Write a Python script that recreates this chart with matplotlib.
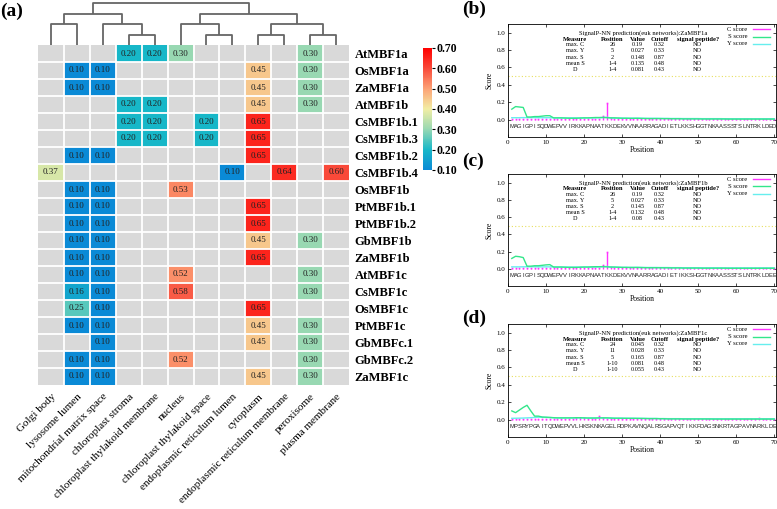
import numpy as np
import matplotlib
matplotlib.use('Agg')
import matplotlib.pyplot as plt
from matplotlib.colors import LinearSegmentedColormap

# ---------------- data ----------------
locations = ["Golgi body", "lysosome lumen", "mitochondrial matrix space",
             "chloroplast stroma", "chloroplast thylakoid membrane", "nucleus",
             "chloroplast thylakoid space", "endoplasmic reticulum lumen",
             "cytoplasm", "endoplasmic reticulum membrane", "peroxisome",
             "plasma membrane"]
proteins = ["AtMBF1a", "OsMBF1a", "ZaMBF1a", "AtMBF1b", "CsMBF1b.1", "CsMBF1b.3",
            "CsMBF1b.2", "CsMBF1b.4", "OsMBF1b", "PtMBF1b.1", "PtMBF1b.2",
            "GbMBF1b", "ZaMBF1b", "AtMBF1c", "CsMBF1c", "OsMBF1c", "PtMBF1c",
            "GbMBFc.1", "GbMBFc.2", "ZaMBF1c"]
N = np.nan
scores = [
    [N, N, N, 0.20, 0.20, 0.30, N, N, N, N, 0.30, N],
    [N, 0.10, 0.10, N, N, N, N, N, 0.45, N, 0.30, N],
    [N, 0.10, 0.10, N, N, N, N, N, 0.45, N, 0.30, N],
    [N, N, N, 0.20, 0.20, N, N, N, 0.45, N, 0.30, N],
    [N, N, N, 0.20, 0.20, N, 0.20, N, 0.65, N, N, N],
    [N, N, N, 0.20, 0.20, N, 0.20, N, 0.65, N, N, N],
    [N, 0.10, 0.10, N, N, N, N, N, 0.65, N, N, N],
    [0.37, N, N, N, N, N, N, 0.10, N, 0.64, N, 0.60],
    [N, 0.10, 0.10, N, N, 0.53, N, N, N, N, N, N],
    [N, 0.10, 0.10, N, N, N, N, N, 0.65, N, N, N],
    [N, 0.10, 0.10, N, N, N, N, N, 0.65, N, N, N],
    [N, 0.10, 0.10, N, N, N, N, N, 0.45, N, 0.30, N],
    [N, 0.10, 0.10, N, N, N, N, N, 0.65, N, N, N],
    [N, 0.10, 0.10, N, N, 0.52, N, N, N, N, 0.30, N],
    [N, 0.16, 0.10, N, N, 0.58, N, N, N, N, 0.30, N],
    [N, 0.25, 0.10, N, N, N, N, N, 0.65, N, N, N],
    [N, 0.10, 0.10, N, N, N, N, N, 0.45, N, 0.30, N],
    [N, N, 0.10, N, N, N, N, N, 0.45, N, 0.30, N],
    [N, 0.10, 0.10, N, N, 0.52, N, N, N, N, 0.30, N],
    [N, 0.10, 0.10, N, N, N, N, N, 0.45, N, 0.30, N],
]
# column dendrogram merges (left id, right id, height); leaves 0..11
col_linkage = [(3, 4, 1), (6, 7, 1), (8, 9, 1), (10, 11, 1),
               (0, 1, 2), (2, 12, 2), (5, 13, 2), (14, 15, 2),
               (16, 17, 3), (18, 19, 3), (20, 21, 4)]
cbar_ticks = [0.10, 0.20, 0.30, 0.40, 0.50, 0.60, 0.70]

# SignalP-NN panels
seq_b = "MAGIGPISQDWEPVVIRKKAPNAATKKDEKVVNAARRAGADIETLKKSHGGTNKAASSSTSLNTRKLDED"
seq_c = "MAGIGPISQDWEPVVIRKKAPNAATKKDEKVVNAARRAGADIETIKKSHGGTNKAASSSTSLNTRKLDEE"
seq_d = "MPSRYPGAITQDWEPVVLHKSKNKAGELRDPKAVNQALRSGAPVQTIKKFDAGSNKRTAGPAVNARKLDE"

s_b = [0.12, 0.15, 0.145, 0.14, 0.03, 0.03, 0.035, 0.035, 0.04, 0.045,
       0.045, 0.02, 0.02, 0.02, 0.018, 0.016, 0.016, 0.016, 0.018, 0.02,
       0.02, 0.022, 0.024, 0.024, 0.025, 0.022, 0.02, 0.02, 0.018, 0.016,
       0.016, 0.015, 0.015, 0.015, 0.014, 0.013, 0.012, 0.012, 0.012, 0.012,
       0.011, 0.011, 0.01, 0.01, 0.01, 0.008, 0.008, 0.008, 0.008, 0.008,
       0.007, 0.007, 0.007, 0.007, 0.007, 0.007, 0.007, 0.006, 0.006, 0.006,
       0.006, 0.006, 0.006, 0.006, 0.006, 0.006, 0.006, 0.006, 0.006, 0.006]
c_b = [0.005, 0.005, 0.005, 0.005, 0.005, 0.005, 0.005, 0.005, 0.005, 0.005,
       0.005, 0.008, 0.005, 0.005, 0.005, 0.005, 0.01, 0.005, 0.005, 0.005,
       0.01, 0.005, 0.01, 0.012, 0.04, 0.19, 0.02, 0.01, 0.005, 0.005,
       0.005, 0.005, 0.005, 0.01, 0.005, 0.005, 0.005, 0.005, 0.005, 0.005,
       0.005, 0.005, 0.005, 0.005, 0.005, 0.005, 0.005, 0.005, 0.005, 0.005,
       0.005, 0.005, 0.005, 0.005, 0.005, 0.005, 0.005, 0.005, 0.005, 0.005,
       0.005, 0.005, 0.005, 0.005, 0.005, 0.005, 0.005, 0.005, 0.005, 0.005]
y_b = [0.022, 0.022, 0.022, 0.023, 0.023, 0.023, 0.023, 0.022, 0.022, 0.022,
       0.022, 0.02, 0.02, 0.02, 0.02, 0.02, 0.02, 0.02, 0.02, 0.02,
       0.02, 0.02, 0.02, 0.021, 0.024, 0.027, 0.02, 0.018, 0.018, 0.017,
       0.017, 0.016, 0.016, 0.017, 0.016, 0.015, 0.015, 0.015, 0.015, 0.014,
       0.014, 0.014, 0.013, 0.013, 0.013, 0.012, 0.012, 0.012, 0.012, 0.012,
       0.011, 0.011, 0.011, 0.011, 0.011, 0.011, 0.01, 0.01, 0.01, 0.01,
       0.01, 0.01, 0.01, 0.01, 0.01, 0.01, 0.01, 0.01, 0.01, 0.01]

s_c = [0.12, 0.145, 0.14, 0.13, 0.03, 0.03, 0.035, 0.035, 0.04, 0.045,
       0.048, 0.02, 0.02, 0.02, 0.018, 0.016, 0.016, 0.016, 0.018, 0.02,
       0.02, 0.022, 0.024, 0.024, 0.025, 0.022, 0.02, 0.02, 0.018, 0.016,
       0.016, 0.015, 0.015, 0.015, 0.014, 0.013, 0.012, 0.012, 0.012, 0.012,
       0.011, 0.011, 0.01, 0.01, 0.01, 0.008, 0.008, 0.008, 0.008, 0.008,
       0.007, 0.007, 0.007, 0.007, 0.007, 0.007, 0.007, 0.006, 0.006, 0.006,
       0.006, 0.006, 0.006, 0.006, 0.006, 0.006, 0.006, 0.006, 0.006, 0.006]
c_c = [0.005, 0.005, 0.005, 0.005, 0.005, 0.005, 0.005, 0.005, 0.005, 0.005,
       0.005, 0.008, 0.005, 0.005, 0.005, 0.005, 0.01, 0.005, 0.005, 0.005,
       0.01, 0.005, 0.01, 0.012, 0.04, 0.19, 0.02, 0.01, 0.005, 0.005,
       0.005, 0.005, 0.005, 0.01, 0.005, 0.005, 0.005, 0.005, 0.005, 0.005,
       0.005, 0.005, 0.005, 0.005, 0.005, 0.005, 0.005, 0.005, 0.005, 0.005,
       0.005, 0.005, 0.005, 0.005, 0.005, 0.005, 0.005, 0.005, 0.005, 0.005,
       0.005, 0.005, 0.005, 0.005, 0.005, 0.005, 0.005, 0.005, 0.005, 0.005]
y_c = [0.022, 0.022, 0.022, 0.023, 0.023, 0.023, 0.023, 0.022, 0.022, 0.022,
       0.022, 0.02, 0.02, 0.02, 0.02, 0.02, 0.02, 0.02, 0.02, 0.02,
       0.02, 0.02, 0.02, 0.021, 0.024, 0.027, 0.02, 0.018, 0.018, 0.017,
       0.017, 0.016, 0.016, 0.017, 0.016, 0.015, 0.015, 0.015, 0.015, 0.014,
       0.014, 0.014, 0.013, 0.013, 0.013, 0.012, 0.012, 0.012, 0.012, 0.012,
       0.011, 0.011, 0.011, 0.011, 0.011, 0.011, 0.01, 0.01, 0.01, 0.01,
       0.01, 0.01, 0.01, 0.01, 0.01, 0.01, 0.01, 0.01, 0.01, 0.01]

s_d = [0.10, 0.08, 0.11, 0.14, 0.165, 0.10, 0.04, 0.04, 0.03, 0.028,
       0.025, 0.022, 0.02, 0.02, 0.02, 0.02, 0.02, 0.022, 0.022, 0.02,
       0.018, 0.018, 0.018, 0.02, 0.02, 0.02, 0.018, 0.016, 0.016, 0.016,
       0.015, 0.015, 0.015, 0.014, 0.014, 0.013, 0.012, 0.012, 0.012, 0.01,
       0.01, 0.008, 0.008, 0.008, 0.008, 0.007, 0.007, 0.007, 0.007, 0.007,
       0.007, 0.007, 0.007, 0.006, 0.006, 0.006, 0.006, 0.006, 0.006, 0.006,
       0.006, 0.006, 0.006, 0.006, 0.006, 0.006, 0.006, 0.006, 0.006, 0.006]
c_d = [0.005, 0.005, 0.005, 0.005, 0.005, 0.005, 0.005, 0.005, 0.005, 0.005,
       0.005, 0.005, 0.005, 0.005, 0.005, 0.005, 0.005, 0.015, 0.02, 0.015,
       0.005, 0.005, 0.005, 0.045, 0.015, 0.01, 0.005, 0.005, 0.005, 0.005,
       0.005, 0.005, 0.005, 0.005, 0.005, 0.005, 0.005, 0.01, 0.005, 0.005,
       0.005, 0.005, 0.005, 0.005, 0.005, 0.005, 0.005, 0.005, 0.005, 0.005,
       0.005, 0.005, 0.005, 0.005, 0.005, 0.005, 0.005, 0.005, 0.005, 0.005,
       0.005, 0.005, 0.005, 0.005, 0.005, 0.02, 0.005, 0.005, 0.005, 0.005]
y_d = [0.015, 0.016, 0.017, 0.018, 0.02, 0.022, 0.025, 0.028, 0.026, 0.025,
       0.024, 0.022, 0.02, 0.02, 0.02, 0.02, 0.02, 0.02, 0.02, 0.02,
       0.019, 0.019, 0.019, 0.02, 0.02, 0.019, 0.018, 0.017, 0.017, 0.016,
       0.016, 0.015, 0.015, 0.015, 0.014, 0.014, 0.013, 0.013, 0.013, 0.012,
       0.012, 0.011, 0.011, 0.011, 0.011, 0.01, 0.01, 0.01, 0.01, 0.01,
       0.01, 0.01, 0.01, 0.01, 0.01, 0.01, 0.01, 0.01, 0.01, 0.01,
       0.01, 0.01, 0.01, 0.01, 0.01, 0.01, 0.01, 0.01, 0.01, 0.01]

table_header = ["Measure", "Position", "Value", "Cutoff", "signal peptide?"]
table_b = [["max. C", "26", "0.19", "0.32", "NO"],
           ["max. Y", "5", "0.027", "0.33", "NO"],
           ["max. S", "2", "0.148", "0.87", "NO"],
           ["mean S", "1-4", "0.135", "0.48", "NO"],
           ["D", "1-4", "0.081", "0.43", "NO"]]
table_c = [["max. C", "26", "0.19", "0.32", "NO"],
           ["max. Y", "5", "0.027", "0.33", "NO"],
           ["max. S", "2", "0.145", "0.87", "NO"],
           ["mean S", "1-4", "0.132", "0.48", "NO"],
           ["D", "1-4", "0.08", "0.43", "NO"]]
table_d = [["max. C", "24", "0.045", "0.32", "NO"],
           ["max. Y", "11", "0.028", "0.33", "NO"],
           ["max. S", "5", "0.165", "0.87", "NO"],
           ["mean S", "1-10", "0.081", "0.48", "NO"],
           ["D", "1-10", "0.055", "0.43", "NO"]]
names = ["ZaMBF1a", "ZaMBF1b", "ZaMBF1c"]
d_cutoff = 0.5

# ---------------- figure ----------------
W, H = 777, 509
fig = plt.figure(figsize=(W / 100, H / 100), dpi=100)
SERIF = ["Liberation Serif", "DejaVu Serif"]


def rect(x0, y0, x1, y1):
    return [x0 / W, 1 - y1 / H, (x1 - x0) / W, (y1 - y0) / H]


# heatmap
cmap = LinearSegmentedColormap.from_list(
    "loc", [(0.0, "#0a8ad6"), (1 / 6, "#18b8c8"), (2 / 6, "#98d8b2"),
            (3 / 6, "#f2eea4"), (4 / 6, "#fca276"), (5 / 6, "#f94a3a"),
            (1.0, "#ff0000")])
cmap.set_bad("#d9d9d9")
data = np.ma.masked_invalid(np.array(scores, dtype=float))
nr, nc = data.shape

ax = fig.add_axes(rect(38, 45, 349, 385))
im = ax.imshow(data, cmap=cmap, vmin=0.1, vmax=0.7, aspect="auto",
               extent=(0, nc, nr, 0), interpolation="nearest")
for i in range(1, nc):
    ax.axvline(i, color="white", lw=1.3)
for j in range(1, nr):
    ax.axhline(j, color="white", lw=1.3)
for r in range(nr):
    for c in range(nc):
        v = scores[r][c]
        if not np.isnan(v):
            ax.text(c + 0.5, r + 0.5, f"{v:.2f}", ha="center", va="center",
                    fontsize=6.5, family=SERIF, color="#222222")
for s in ax.spines.values():
    s.set_visible(False)
ax.set_xticks(np.arange(nc) + 0.5)
ax.set_xticklabels(locations, rotation=45, ha="right", rotation_mode="anchor",
                   family=SERIF, fontsize=8)
ax.yaxis.tick_right()
ax.set_yticks(np.arange(nr) + 0.5)
ax.set_yticklabels(proteins, family=SERIF, fontsize=9, fontweight="bold")
ax.tick_params(axis="x", length=0, pad=5)
ax.tick_params(axis="y", length=0, pad=4)
ax.set_xlim(0, nc)
ax.set_ylim(nr, 0)

# dendrogram
dax = fig.add_axes(rect(38, 2, 349, 45))
pos = {i: (i + 0.5, 0.0) for i in range(nc)}
nid = nc
for a, b, h in col_linkage:
    xa, ha = pos[a]
    xb, hb = pos[b]
    dax.plot([xa, xa, xb, xb], [ha, h, h, hb], color="#666666", lw=1.3,
             solid_capstyle="butt")
    pos[nid] = ((xa + xb) / 2, h)
    nid += 1
dax.set_xlim(0, nc)
dax.set_ylim(0, 4.1)
dax.axis("off")

# colorbar
cax = fig.add_axes(rect(423, 48, 432, 170))
cb = fig.colorbar(im, cax=cax, ticks=cbar_ticks)
cb.outline.set_visible(False)
cb.ax.set_yticklabels([f"{t:.2f}" for t in cbar_ticks], family=SERIF,
                      fontsize=8.5, fontweight="bold")
cb.ax.tick_params(length=2, width=0.8, pad=1)

fig.text(0 / W, 1 - 11 / H, "(a)", family=SERIF, fontsize=14,
         fontweight="bold", va="center", ha="left")

# SignalP panels
panels = [
    ("(b)", 9, (508, 24, 776, 137), seq_b, c_b, s_b, y_b, table_b, names[0]),
    ("(c)", 161, (508, 174, 776, 286), seq_c, c_c, s_c, y_c, table_c, names[1]),
    ("(d)", 318, (508, 324, 776, 437), seq_d, c_d, s_d, y_d, table_d, names[2]),
]
C_COL, S_COL, Y_COL = "#ff33ff", "#33e68a", "#66eeee"
for lab, ly, (x0, y0, x1, y1), seq, cs, ss, ys, tab, nm in panels:
    fig.text(462 / W, 1 - ly / H, lab, family=SERIF, fontsize=14,
             fontweight="bold", va="center", ha="left")
    a = fig.add_axes(rect(x0, y0, x1, y1))
    p = np.arange(1, len(ss) + 1)
    a.axhline(d_cutoff, color="#e8e060", lw=0.8, ls=(0, (1, 2)))
    a.vlines(p, 0, cs, color=C_COL, lw=1.0)
    a.plot(p, cs, ls="none", marker="s", ms=1.2, color=C_COL, mew=0)
    a.plot(p, ys, color=Y_COL, lw=1.0)
    a.plot(p, ss, color=S_COL, lw=1.0)
    for k, ch in enumerate(seq):
        a.text(k + 1, -0.08, ch, ha="center", va="center", fontsize=4.2,
               family=["Liberation Sans", "DejaVu Sans"], color="#222222")
    a.set_xlim(0, 70.5)
    a.set_ylim(-0.2, 1.1)
    a.set_xticks(range(0, 71, 10))
    a.set_yticks([0.0, 0.2, 0.4, 0.6, 0.8, 1.0])
    a.set_yticklabels(["0.0", "0.2", "0.4", "0.6", "0.8", "1.0"])
    a.tick_params(direction="in", top=True, right=True, length=2, width=0.5,
                  labelsize=5, pad=2)
    for t in a.get_xticklabels() + a.get_yticklabels():
        t.set_family(SERIF)
    for s in a.spines.values():
        s.set_linewidth(0.6)
    a.set_xlabel("Position", family=SERIF, fontsize=5.5, labelpad=1)
    a.set_ylabel("Score", family=SERIF, fontsize=5.5, labelpad=2)
    # title and table
    a.text(35.5, 1.0, f"SignalP-NN prediction(euk networks):{nm}",
           ha="center", va="center", fontsize=4.7, family=SERIF)
    col_x = [17.7, 27.5, 34.1, 39.9, 49.9]
    row_y = [0.927, 0.86, 0.79, 0.72, 0.65, 0.58]
    for j, (cx, txt) in enumerate(zip(col_x, table_header)):
        a.text(cx, row_y[0], txt, ha="center", va="center", fontsize=4.7,
               family=SERIF, fontweight="bold")
    for i, row in enumerate(tab):
        for cx, txt in zip(col_x, row):
            a.text(cx, row_y[i + 1], txt, ha="center", va="center",
                   fontsize=4.5, family=SERIF)
    # legend
    for i, (nm2, col) in enumerate([("C score", C_COL), ("S score", S_COL),
                                    ("Y score", Y_COL)]):
        yy = 1.04 - i * 0.085
        a.text(63.0, yy, nm2, ha="right", va="center", fontsize=4.8,
               family=SERIF)
        a.plot([64.5, 69.0], [yy, yy], color=col, lw=1.0)

fig.savefig("out.png", dpi=100)
